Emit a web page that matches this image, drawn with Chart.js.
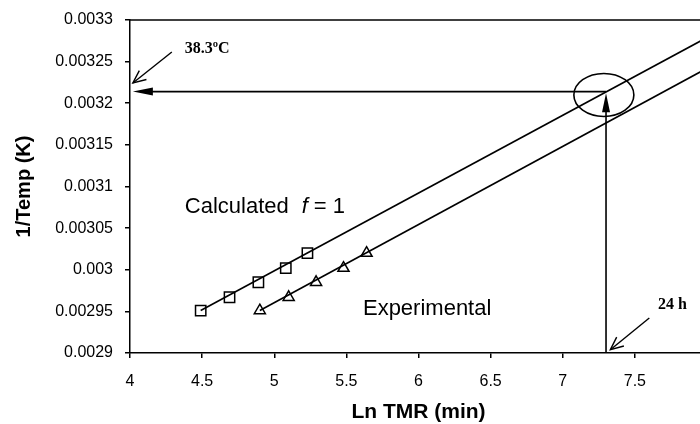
<!DOCTYPE html>
<html>
<head>
<meta charset="utf-8">
<script src="https://cdn.jsdelivr.net/npm/chart.js@4.4.1/dist/chart.umd.min.js"></script>
<style>
  html, body { margin: 0; padding: 0; background: #fff; overflow: hidden; }
  #wrap { width: 717px; height: 424px; }
</style>
</head>
<body>
<div id="wrap"><canvas id="myChart" width="717" height="424"></canvas></div>
<script>
// points
const calcX = [4.49, 4.69, 4.89, 5.08, 5.23];
const calcY = [0.002951, 0.002967, 0.002985, 0.003002, 0.00302];
const expX = [4.9, 5.1, 5.29, 5.48, 5.64];
const expY = [0.002951, 0.002967, 0.002985, 0.003002, 0.00302];

// fitted lines, start and end
const calcLineX = [4.49, 8];
const calcLineY = [0.002951, 0.003279];
const expLineX = [4.9, 8];
const expLineY = [0.002951, 0.003242];

const xTicks = [4, 4.5, 5, 5.5, 6, 6.5, 7, 7.5, 8];
const xTickLabels = ['4', '4.5', '5', '5.5', '6', '6.5', '7', '7.5', '8'];
const yTicks = [0.0029, 0.00295, 0.003, 0.00305, 0.0031, 0.00315, 0.0032, 0.00325, 0.0033];
const yTickLabels = ['0.0029', '0.00295', '0.003', '0.00305', '0.0031', '0.00315', '0.0032', '0.00325', '0.0033'];

// annotations (in data units)
const readX = 7.30;
const readY = 0.003214;
const circleCenter = [7.285, 0.00321];
const tempNote = { text: '38.3ºC', at: [4.38, 0.0032604], from: [4.29, 0.0032616], to: [4.02, 0.0032243] };
const timeNote = { text: '24 h', at: [7.66, 0.0029529], from: [7.6, 0.002942], to: [7.33, 0.002904] };
const calcLabelAt = [4.38, 0.003068];
const expLabelAt = [5.615, 0.0029456];

const toPts = (xs, ys) => xs.map((x, i) => ({ x: x, y: ys[i] }));

const sans = "'Liberation Sans', Arial, Helvetica, sans-serif";
const serif = "'Liberation Serif', 'Times New Roman', serif";

function solidHead(c, x0, y0, x1, y1, len, half) {
    const a = Math.atan2(y1 - y0, x1 - x0);
    c.beginPath();
    c.moveTo(x1, y1);
    c.lineTo(x1 - len * Math.cos(a) + half * Math.sin(a), y1 - len * Math.sin(a) - half * Math.cos(a));
    c.lineTo(x1 - len * Math.cos(a) - half * Math.sin(a), y1 - len * Math.sin(a) + half * Math.cos(a));
    c.closePath();
    c.fill();
}

function openHead(c, x0, y0, x1, y1, len, spread) {
    const a = Math.atan2(y1 - y0, x1 - x0);
    c.beginPath();
    c.moveTo(x1 - len * Math.cos(a - spread), y1 - len * Math.sin(a - spread));
    c.lineTo(x1, y1);
    c.lineTo(x1 - len * Math.cos(a + spread), y1 - len * Math.sin(a + spread));
    c.stroke();
}

const notesPlugin = {
    id: 'notes',
    afterDraw(chart) {
        const c = chart.ctx;
        const sx = chart.scales.x, sy = chart.scales.y;
        const X = v => sx.getPixelForValue(v);
        const Y = v => sy.getPixelForValue(v);
        const area = chart.chartArea;

        c.save();
        c.strokeStyle = '#000';
        c.fillStyle = '#000';

        // top frame line
        c.lineWidth = 1.5;
        c.beginPath();
        c.moveTo(area.left, area.top);
        c.lineTo(area.right, area.top);
        c.stroke();

        // reading lines
        c.lineWidth = 1.6;
        const hx0 = X(readX), hy = Y(readY), hx1 = X(4.02);
        c.beginPath();
        c.moveTo(hx0, hy);
        c.lineTo(hx1 + 10, hy);
        c.stroke();
        solidHead(c, hx0, hy, hx1, hy, 20, 4);

        const vy0 = Y(0.0029), vy1 = Y(0.003212);
        c.beginPath();
        c.moveTo(hx0, vy0);
        c.lineTo(hx0, vy1 + 10);
        c.stroke();
        solidHead(c, hx0, vy0, hx0, vy1, 19, 4);

        // circle
        c.lineWidth = 1.6;
        c.beginPath();
        c.ellipse(X(circleCenter[0]), Y(circleCenter[1]), 30, 21.5, 0, 0, Math.PI * 2);
        c.stroke();

        // callouts
        c.lineWidth = 1.4;
        [tempNote, timeNote].forEach(n => {
            const x0 = X(n.from[0]), y0 = Y(n.from[1]), x1 = X(n.to[0]), y1 = Y(n.to[1]);
            c.beginPath();
            c.moveTo(x0, y0);
            c.lineTo(x1, y1);
            c.stroke();
            openHead(c, x0, y0, x1, y1, 14, 0.42);
            c.font = 'bold 16px ' + serif;
            c.textAlign = 'left';
            c.textBaseline = 'alphabetic';
            c.fillText(n.text, X(n.at[0]), Y(n.at[1]));
        });

        // series labels
        c.font = '22px ' + sans;
        c.textBaseline = 'alphabetic';
        const lx = X(calcLabelAt[0]), ly = Y(calcLabelAt[1]);
        c.fillText('Calculated', lx, ly);
        c.font = 'italic 22px ' + sans;
        c.fillText('f', lx + 117, ly);
        c.font = '22px ' + sans;
        c.fillText('= 1', lx + 129, ly);
        c.fillText('Experimental', X(expLabelAt[0]), Y(expLabelAt[1]));

        c.restore();
    }
};

new Chart(document.getElementById('myChart'), {
    type: 'scatter',
    data: {
        datasets: [
            {
                label: 'Calculated line',
                type: 'line',
                data: toPts(calcLineX, calcLineY),
                borderColor: '#000',
                borderWidth: 1.6,
                pointRadius: 0,
                fill: false
            },
            {
                label: 'Experimental line',
                type: 'line',
                data: toPts(expLineX, expLineY),
                borderColor: '#000',
                borderWidth: 1.6,
                pointRadius: 0,
                fill: false
            },
            {
                label: 'Calculated f = 1',
                data: toPts(calcX, calcY),
                pointStyle: 'rect',
                pointRadius: 7.3,
                pointBackgroundColor: '#fff',
                pointBorderColor: '#000',
                pointBorderWidth: 1.5
            },
            {
                label: 'Experimental',
                data: toPts(expX, expY),
                pointStyle: 'triangle',
                pointRadius: 6.4,
                pointBackgroundColor: '#fff',
                pointBorderColor: '#000',
                pointBorderWidth: 1.5
            }
        ]
    },
    options: {
        responsive: false,
        animation: false,
        layout: { padding: { top: 20, right: 10, left: 0, bottom: 0 } },
        plugins: {
            legend: { display: false },
            tooltip: { enabled: false }
        },
        scales: {
            x: {
                type: 'linear',
                position: 'bottom',
                min: 4,
                max: 8,
                afterBuildTicks: s => { s.ticks = xTicks.map(v => ({ value: v })); },
                afterFit: s => { s.height = 71; s.paddingLeft = 0; s.paddingRight = 0; },
                ticks: {
                    callback: (v, i) => xTickLabels[i],
                    font: { family: sans, size: 16 },
                    color: '#000',
                    padding: 14,
                    maxRotation: 0,
                    autoSkip: false
                },
                grid: { drawOnChartArea: false, tickLength: 5, color: '#000', lineWidth: 1.5 },
                border: { display: true, color: '#000', width: 1.5 },
                title: {
                    display: true,
                    text: 'Ln TMR (min)',
                    color: '#000',
                    font: { family: sans, size: 21, weight: 'bold' },
                    padding: { top: 0, bottom: -1 }
                }
            },
            y: {
                type: 'linear',
                min: 0.0029,
                max: 0.0033,
                afterBuildTicks: s => { s.ticks = yTicks.map(v => ({ value: v })); },
                afterFit: s => { s.width = 130; s.paddingTop = 0; s.paddingBottom = 0; },
                ticks: {
                    callback: (v, i) => yTickLabels[i],
                    font: { family: sans, size: 16 },
                    color: '#000',
                    padding: 12,
                    autoSkip: false
                },
                grid: { drawOnChartArea: false, tickLength: 5, color: '#000', lineWidth: 1.5 },
                border: { display: true, color: '#000', width: 1.5 },
                title: {
                    display: true,
                    text: '1/Temp (K)',
                    color: '#000',
                    font: { family: sans, size: 20, weight: 'bold' },
                    padding: { top: 12, bottom: 0 }
                }
            }
        }
    },
    plugins: [notesPlugin]
});
</script>
</body>
</html>
